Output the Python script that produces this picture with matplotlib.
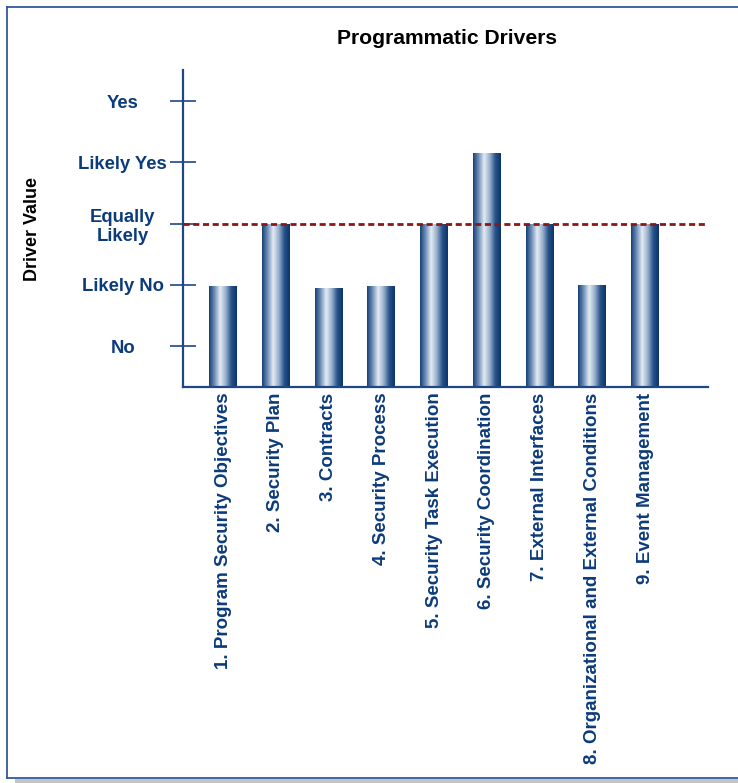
import matplotlib
matplotlib.use('Agg')
import matplotlib.pyplot as plt
import numpy as np
from matplotlib.colors import LinearSegmentedColormap
from matplotlib.lines import Line2D
from matplotlib.patches import Rectangle

plt.rcParams['font.family'] = ['Liberation Sans', 'DejaVu Sans']
plt.rcParams['font.weight'] = 'bold'

# driver names along the x axis and their scored values (1 = No ... 5 = Yes)
drivers = [
    '1. Program Security Objectives',
    '2. Security Plan',
    '3. Contracts',
    '4. Security Process',
    '5. Security Task Execution',
    '6. Security Coordination',
    '7. External Interfaces',
    '8. Organizational and External Conditions',
    '9. Event Management',
]
driver_values = [1.98, 3.0, 1.95, 1.98, 3.0, 4.15, 3.0, 2.0, 3.0]

scale_levels = [1, 2, 3, 4, 5]
scale_labels = ['No', 'Likely No', 'Equally\nLikely', 'Likely Yes', 'Yes']
threshold = 3

navy = '#0c3b7c'
axis_blue = '#1f4784'
y_floor, y_top = 0.33, 5.51

fig = plt.figure(figsize=(7.38, 7.83), dpi=100)
ax = fig.add_axes([0.248, 0.5057, 0.7113, 0.4049])

x = np.arange(len(drivers))
heights = np.array(driver_values) - y_floor
bars = ax.bar(x, heights, width=0.53, bottom=y_floor, color='none', zorder=2)

# cylinder-like horizontal shading on each bar
shade = LinearSegmentedColormap.from_list(
    'cyl', ['#153f75', '#6f8fb8', '#e4ebf4', '#98afcc', '#27538a', '#0c3468'])
grad = np.linspace(0, 1, 256).reshape(1, -1)
for b in bars:
    bx, by = b.get_x(), b.get_y()
    im = ax.imshow(grad, cmap=shade, aspect='auto', zorder=2,
                   extent=[bx, bx + b.get_width(), by, by + b.get_height()])
    im.set_clip_path(b)

ax.axhline(threshold, color='#8b1616', linestyle=(0, (2.2, 1.3)), linewidth=2.0, zorder=3)

ax.set_xlim(-0.758, 9.19)
ax.set_ylim(y_floor, y_top)

ax.set_yticks(scale_levels)
ax.set_yticklabels(scale_labels, fontsize=13.3, color=navy, fontweight='bold')
ax.tick_params(axis='y', direction='inout', length=18.7, width=1.2, color=axis_blue, pad=34)
for lab in ax.get_yticklabels():
    lab.set_horizontalalignment('center')
    lab.set_multialignment('center')

ax.set_xticks(x)
ax.set_xticklabels(drivers, rotation=90, fontsize=13.5, color=navy, fontweight='bold',
                   va='top', ha='center')
ax.tick_params(axis='x', length=0, pad=4)

for side in ['top', 'right']:
    ax.spines[side].set_visible(False)
for side in ['left', 'bottom']:
    ax.spines[side].set_color(axis_blue)
    ax.spines[side].set_linewidth(1.6)

ax.set_ylabel('Driver Value', fontsize=13, fontweight='bold', color='black')
ax.yaxis.set_label_coords(-0.271, 0.5, transform=ax.transAxes)

fig.text(0.606, 0.951, 'Programmatic Drivers', ha='center', va='center',
         fontsize=15.2, fontweight='bold', color='black')

# page frame with a soft gray shadow under the bottom edge
W, H = 738.0, 783.0
fig.patches.append(Rectangle((15 / W, 0), 1, 4 / H, transform=fig.transFigure,
                             facecolor='#c4c4c4', edgecolor='none', zorder=0))
frame = dict(transform=fig.transFigure, color='#2f5a9a', linewidth=1.3)
fig.lines.append(Line2D([7 / W, 1], [1 - 7 / H, 1 - 7 / H], **frame))
fig.lines.append(Line2D([7 / W, 7 / W], [1 - 7 / H, 5 / H], **frame))
fig.lines.append(Line2D([7 / W, 1], [5 / H, 5 / H], **frame))

fig.savefig('out.png', dpi=100)
